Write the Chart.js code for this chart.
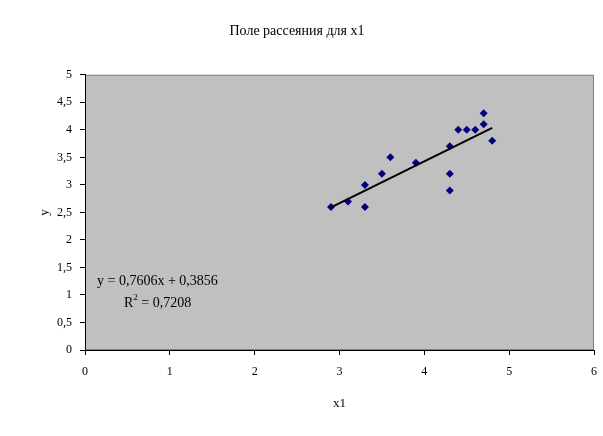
<!DOCTYPE html>
<html>
<head>
<meta charset="utf-8">
<script src="https://cdn.jsdelivr.net/npm/chart.js@4"></script>
<style>
  html, body { margin: 0; padding: 0; background: #fff; }
  #wrap { width: 603px; height: 436px; }
</style>
</head>
<body>
<div id="wrap"><canvas id="scatterChart" width="603" height="436"></canvas></div>
<script>
const xValues = [2.9, 3.1, 3.3, 3.3, 3.5, 3.6, 3.9, 4.3, 4.3, 4.3, 4.4, 4.5, 4.6, 4.7, 4.7, 4.8];
const yValues = [2.6, 2.7, 3.0, 2.6, 3.2, 3.5, 3.4, 3.7, 3.2, 2.9, 4.0, 4.0, 4.0, 4.3, 4.1, 3.8];

// linear trendline reported on the chart
const slope = 0.7606;
const intercept = 0.3856;
const rSquared = 0.7208;

const titleText = "Поле рассеяния для x1";
const xTitle = "x1";
const yTitle = "y";

const serif = "'Liberation Serif', 'Times New Roman', serif";
const comma = (v) => String(v).replace(".", ",");

const points = xValues.map((x, i) => ({ x: x, y: yValues[i] }));
const xMin = Math.min(...xValues);
const xMax = Math.max(...xValues);
const trend = [
  { x: xMin, y: slope * xMin + intercept },
  { x: xMax, y: slope * xMax + intercept },
];

// gray plot area + the equation box text
const plotArea = {
  id: "plotArea",
  beforeDraw(chart) {
    const { ctx, chartArea: a } = chart;
    ctx.save();
    ctx.fillStyle = "#c0c0c0";
    ctx.fillRect(a.left, a.top, a.right - a.left, a.bottom - a.top);
    ctx.strokeStyle = "#808080";
    ctx.lineWidth = 1;
    ctx.strokeRect(a.left + 0.5, a.top + 0.5, a.right - a.left - 1, a.bottom - a.top - 1);
    ctx.restore();
  },
  afterDraw(chart) {
    const { ctx, chartArea: a } = chart;
    ctx.save();
    ctx.fillStyle = "#000";
    ctx.textBaseline = "alphabetic";
    ctx.font = "14px " + serif;
    const eq = "y = " + comma(slope) + "x + " + comma(intercept);
    ctx.fillText(eq, a.left + 12, a.top + 210);
    const rx = a.left + 39;
    const ry = a.top + 232;
    ctx.fillText("R", rx, ry);
    const rw = ctx.measureText("R").width;
    ctx.font = "9px " + serif;
    ctx.fillText("2", rx + rw, ry - 7);
    const sw = ctx.measureText("2").width;
    ctx.font = "14px " + serif;
    ctx.fillText(" = " + comma(rSquared), rx + rw + sw, ry);
    ctx.restore();
  },
};

const ctx = document.getElementById("scatterChart").getContext("2d");
const chart = new Chart(ctx, {
  type: "scatter",
  data: {
    datasets: [
      {
        label: "y",
        data: points,
        pointStyle: "rectRot",
        pointRadius: 4,
        pointHoverRadius: 4,
        backgroundColor: "#000080",
        borderColor: "#000080",
        borderWidth: 0,
        order: 2,
      },
      {
        label: "Линейный",
        type: "line",
        data: trend,
        borderColor: "#000",
        borderWidth: 2,
        pointRadius: 0,
        fill: false,
        order: 1,
      },
    ],
  },
  options: {
    responsive: false,
    animation: false,
    layout: { padding: { left: 0, right: 9, top: 0, bottom: 0 } },
    plugins: {
      legend: { display: false },
      tooltip: { enabled: false },
      title: {
        display: true,
        text: titleText,
        color: "#000",
        font: { family: serif, size: 14, weight: "normal" },
        padding: { top: 23, bottom: 35 },
      },
    },
    scales: {
      x: {
        type: "linear",
        min: 0,
        max: 6,
        afterFit: (scale) => {
          scale.height = 86;
          scale.paddingRight = 0; // tick padding would otherwise shrink the plot
          scale.paddingLeft = 0;
        },
        ticks: {
          stepSize: 1,
          color: "#000",
          padding: 10,
          maxRotation: 0,
          font: { family: serif, size: 12 },
        },
        grid: { drawOnChartArea: false, drawTicks: true, tickLength: 5, tickColor: "#000" },
        border: { color: "#000", width: 1 },
        title: {
          display: true,
          text: xTitle,
          color: "#000",
          font: { family: serif, size: 13 },
          padding: { top: 0, bottom: 25 },
        },
      },
      y: {
        type: "linear",
        min: 0,
        max: 5,
        afterFit: (scale) => { scale.width = 85; },
        ticks: {
          stepSize: 0.5,
          color: "#000",
          padding: 8,
          font: { family: serif, size: 12 },
          callback: (v) => comma(v),
        },
        grid: { drawOnChartArea: false, drawTicks: true, tickLength: 5, tickColor: "#000" },
        border: { color: "#000", width: 1 },
        title: {
          display: true,
          text: yTitle,
          color: "#000",
          font: { family: serif, size: 13 },
          padding: { top: 37, bottom: 0 },
        },
      },
    },
  },
  plugins: [plotArea],
});
</script>
</body>
</html>
